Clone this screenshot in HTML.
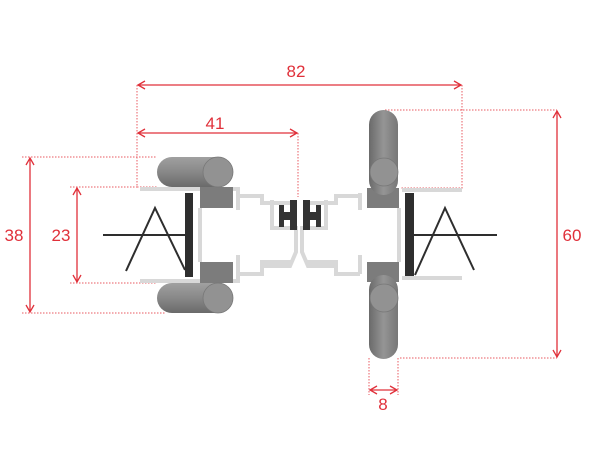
<!DOCTYPE html><html><head><style>body{margin:0;background:#fff}svg{display:block}text{font-family:"Liberation Sans",sans-serif;font-size:17px;fill:#e0303a}</style></head><body>
<svg width="601" height="451" viewBox="0 0 601 451">
<defs>
<linearGradient id="gh" x1="0" y1="0" x2="0" y2="1"><stop offset="0" stop-color="#a0a0a0"/><stop offset="0.5" stop-color="#888"/><stop offset="1" stop-color="#6a6a6a"/></linearGradient>
<linearGradient id="gv" x1="0" y1="0" x2="1" y2="0"><stop offset="0" stop-color="#6a6a6a"/><stop offset="0.5" stop-color="#959595"/><stop offset="1" stop-color="#777"/></linearGradient>
<marker id="a" markerWidth="10" markerHeight="10" refX="8" refY="5" orient="auto-start-reverse" markerUnits="userSpaceOnUse"><path d="M1,1 L8,5 L1,9" fill="none" stroke="#e0303a" stroke-width="1.3"/></marker>
</defs>
<g stroke="#e85a60" stroke-width="1" stroke-dasharray="1.5,1.5" fill="none">
<path d="M137,85V187H157M298,133V197M462,85V188H400M385,110H557M400,358H557M22,157H157M22,313H165M70,187H137M70,283H157M369,358V395M398,358V395"/>
</g>
<g stroke="#e0303a" stroke-width="1.3" fill="none" marker-start="url(#a)" marker-end="url(#a)">
<line x1="138" y1="85" x2="461" y2="85"/><line x1="138" y1="133" x2="297" y2="133"/>
<line x1="557" y1="111" x2="557" y2="357"/><line x1="30" y1="158" x2="30" y2="312"/>
<line x1="77" y1="188" x2="77" y2="282"/><line x1="370" y1="390" x2="397" y2="390"/>
</g>
<text x="296" y="77" text-anchor="middle">82</text><text x="215" y="129" text-anchor="middle">41</text>
<text x="572" y="241" text-anchor="middle">60</text><text x="14" y="241" text-anchor="middle">38</text>
<text x="61" y="241" text-anchor="middle">23</text><text x="383" y="410" text-anchor="middle">8</text>
<g stroke="#d8d8d8" stroke-width="4" fill="none">
<path d="M140,189H238V196H262V203H292M140,281H238V274H262V262H292M200,208V262M238,196V210M238,255V274M272,200V228H296V252L290,266H262"/>
<path d="M462,190H402M462,278H402M399,208V262M360,193V210M360,255V274M360,196H336V203H305M360,274H336V262H305M326,200V228H302V252L308,266H336"/>
</g>
<rect x="200" y="187" width="33" height="21" fill="#7c7c7c"/><rect x="200" y="262" width="33" height="21" fill="#7c7c7c"/>
<rect x="157" y="157" width="76" height="30" rx="15" fill="url(#gh)"/><circle cx="218" cy="172" r="15" fill="#929292" stroke="#777" stroke-width="0.8"/>
<rect x="157" y="283" width="76" height="30" rx="15" fill="url(#gh)"/><circle cx="218" cy="298" r="15" fill="#929292" stroke="#777" stroke-width="0.8"/>
<rect x="185" y="193" width="8" height="84" fill="#2e2e2e"/>
<path d="M103,235H193M126,271L155,208L185,270" stroke="#2e2e2e" stroke-width="2" fill="none"/>
<rect x="367" y="188" width="32" height="20" fill="#7c7c7c"/><rect x="367" y="262" width="32" height="20" fill="#7c7c7c"/>
<rect x="369" y="110" width="29" height="85" rx="14.5" fill="url(#gv)"/><circle cx="384" cy="172" r="14" fill="#929292" stroke="#777" stroke-width="0.8"/>
<rect x="369" y="275" width="29" height="84" rx="14.5" fill="url(#gv)"/><circle cx="384" cy="298" r="14" fill="#929292" stroke="#777" stroke-width="0.8"/>
<rect x="405" y="193" width="9" height="83" fill="#2e2e2e"/>
<path d="M414,235H497M415,275L445,208L474,270" stroke="#2e2e2e" stroke-width="2" fill="none"/>
<g fill="#333"><path d="M279,205h5v7h6v-12h7v30h-7v-10h-6v7h-5z"/><path d="M321,205h-5v7h-6v-12h-7v30h7v-10h6v7h5z"/></g>
</svg>
</body></html>
